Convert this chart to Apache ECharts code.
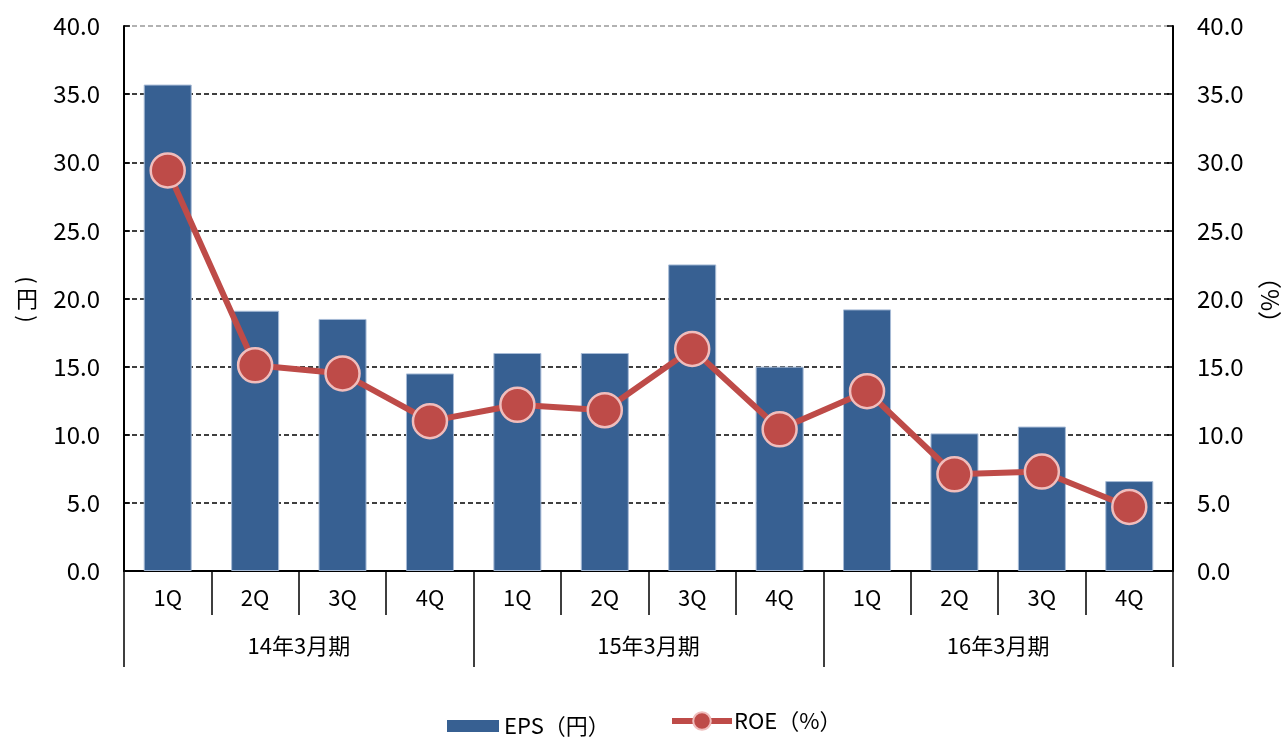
<!DOCTYPE html>
<html>
<head>
<meta charset="utf-8">
<script src="https://cdn.jsdelivr.net/npm/echarts@6/dist/echarts.min.js"></script>
<style>
html,body{margin:0;padding:0;background:#fff;}
#main{width:1286px;height:737px;}
</style>
</head>
<body>
<div id="main"></div>
<script>
var quarters = ['1Q','2Q','3Q','4Q','1Q','2Q','3Q','4Q','1Q','2Q','3Q','4Q'];
var periods = ['14年3月期','15年3月期','16年3月期'];
var epsValues = [35.7, 19.1, 18.5, 14.5, 16.0, 16.0, 22.5, 15.0, 19.2, 10.1, 10.6, 6.6];
var roeValues = [29.4, 15.1, 14.5, 11.0, 12.2, 11.8, 16.3, 10.4, 13.2, 7.1, 7.3, 4.7];
var seriesNames = ['EPS（円）', 'ROE（%）'];

var FONT = '"Noto Sans CJK JP", sans-serif';
var chart = echarts.init(document.getElementById('main'), null, {renderer: 'canvas'});

var gridColors = ['#000','#000','#000','#000','#000','#000','#000','#000','#999'];

chart.setOption({
  animation: false,
  backgroundColor: '#fff',
  textStyle: {fontFamily: FONT, color: '#000'},
  grid: {left: 124, right: 113, top: 26, bottom: 166, containLabel: false},
  legend: [
    {
      left: 442, top: 710,
      itemWidth: 52,
      itemHeight: 12,
      textStyle: {fontFamily: FONT, fontSize: 22, color: '#000'},
      data: [{name: seriesNames[0], icon: 'rect', itemStyle: {borderWidth: 0}}]
    },
    {
      left: 664, top: 705,
      itemWidth: 60,
      itemHeight: 22,
      itemGap: 2,
      textStyle: {fontFamily: FONT, fontSize: 22, color: '#000', padding: [0, 0, 0, -3]},
      lineStyle: {width: 6},
      data: [{name: seriesNames[1]}]
    }
  ],
  xAxis: [
    {
      type: 'category',
      data: quarters,
      position: 'bottom',
      axisLine: {show: true, lineStyle: {color: '#000', width: 2}},
      axisTick: {show: true, interval: 0, length: 44, lineStyle: {color: '#000', width: 1.5}},
      axisLabel: {interval: 0, margin: 16, fontSize: 22, color: '#000', fontFamily: FONT},
      splitLine: {show: false}
    },
    {
      type: 'category',
      data: periods,
      position: 'bottom',
      axisLine: {show: false},
      axisTick: {show: true, interval: 0, length: 96, lineStyle: {color: '#000', width: 1.5}},
      axisLabel: {interval: 0, margin: 64, fontSize: 22, color: '#000', fontFamily: FONT},
      splitLine: {show: false}
    }
  ],
  yAxis: [
    {
      type: 'value', min: 0, max: 40, interval: 5,
      axisLine: {show: true, lineStyle: {color: '#000', width: 2}},
      axisTick: {show: true, inside: true, length: 6, lineStyle: {color: '#000', width: 1.5}},
      axisLabel: {margin: 24, fontSize: 24, color: '#000', fontFamily: FONT,
        formatter: function (v) { return v.toFixed(1); }},
      splitLine: {show: true, lineStyle: {color: gridColors, width: 1.5, type: [5, 3]}}
    },
    {
      type: 'value', min: 0, max: 40, interval: 5,
      position: 'right',
      axisLine: {show: true, lineStyle: {color: '#000', width: 2}},
      axisTick: {show: true, inside: true, length: 6, lineStyle: {color: '#000', width: 1.5}},
      axisLabel: {margin: 24, fontSize: 24, color: '#000', fontFamily: FONT,
        formatter: function (v) { return v.toFixed(1); }},
      splitLine: {show: false}
    }
  ],
  graphic: [
    {type: 'text', x: 27, y: 280, rotation: -Math.PI / 2,
      style: {text: '(', font: '22px "Noto Sans CJK JP"', fill: '#000', align: 'center', verticalAlign: 'middle'}},
    {type: 'text', x: 27, y: 299,
      style: {text: '円', font: '22px "Noto Sans CJK JP"', fill: '#000', align: 'center', verticalAlign: 'middle'}},
    {type: 'text', x: 27, y: 319, rotation: -Math.PI / 2,
      style: {text: ')', font: '22px "Noto Sans CJK JP"', fill: '#000', align: 'center', verticalAlign: 'middle'}},
    {type: 'text', x: 1270, y: 300, rotation: -Math.PI / 2,
      style: {text: '（%）', font: '24px "Noto Sans CJK JP"', fill: '#000', align: 'center', verticalAlign: 'middle'}}
  ],
  series: [
    {
      name: seriesNames[0],
      type: 'bar',
      xAxisIndex: 0, yAxisIndex: 0,
      data: epsValues,
      barWidth: 48,
      itemStyle: {color: '#376092', borderColor: '#A7BBD6', borderWidth: 1}
    },
    {
      name: seriesNames[1],
      type: 'line',
      xAxisIndex: 0, yAxisIndex: 1,
      data: roeValues,
      symbol: 'circle',
      symbolSize: 34,
      lineStyle: {color: '#BE4B48', width: 6},
      itemStyle: {color: '#BE4B48', borderColor: '#F0BDBC', borderWidth: 2.5},
      z: 5
    }
  ]
});
</script>
</body>
</html>
